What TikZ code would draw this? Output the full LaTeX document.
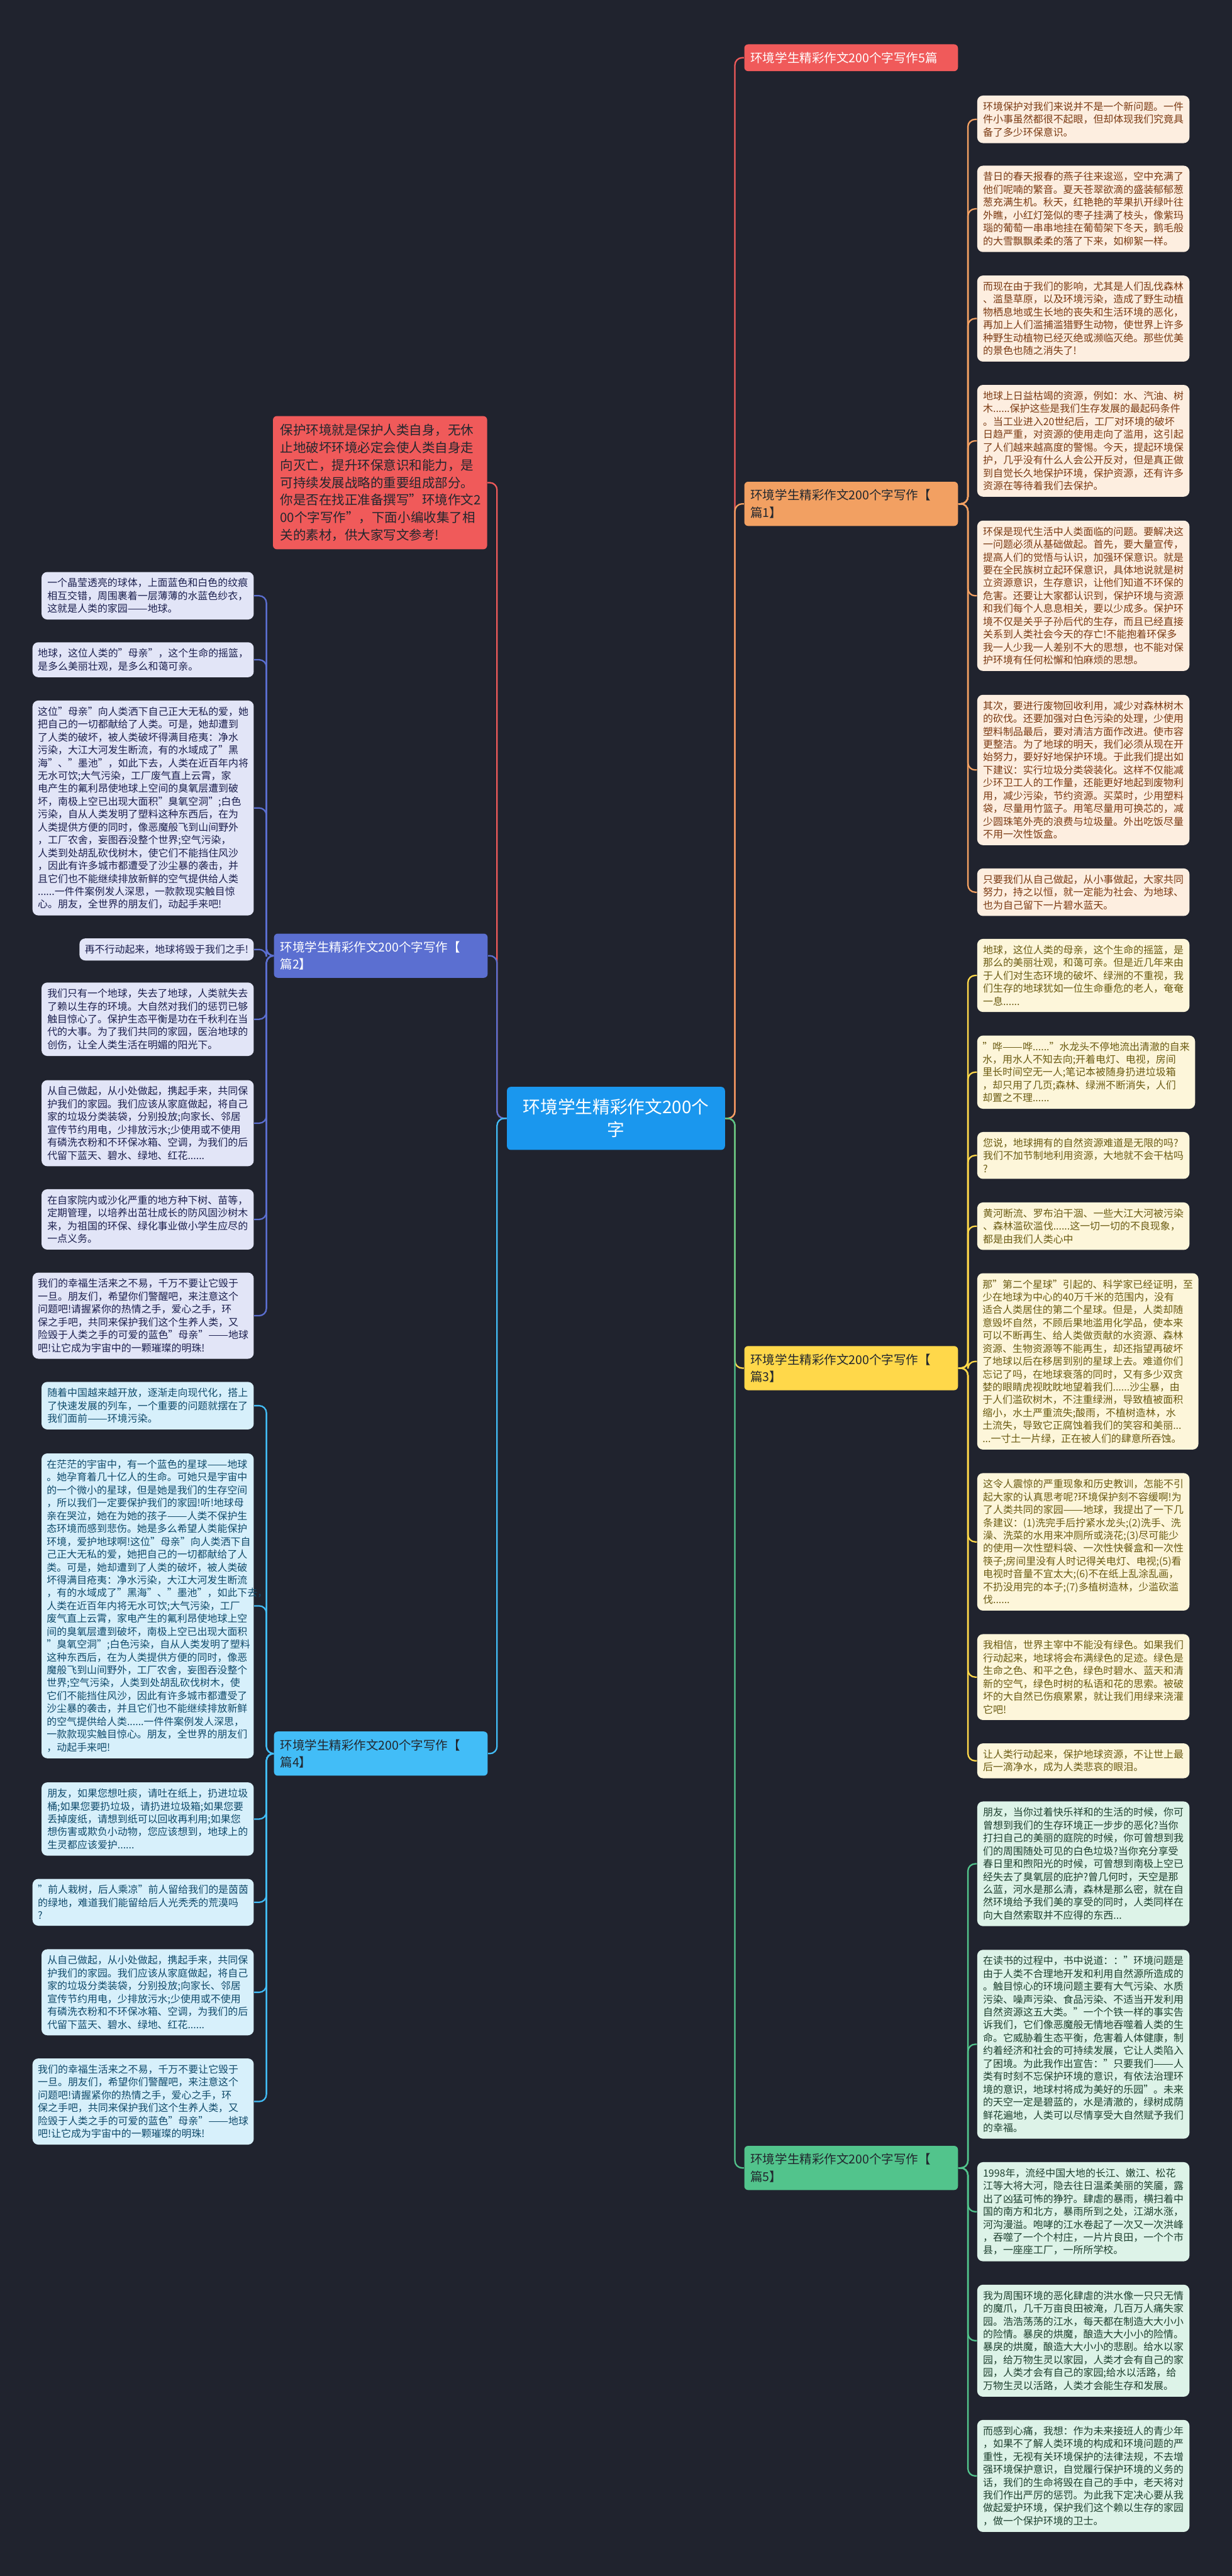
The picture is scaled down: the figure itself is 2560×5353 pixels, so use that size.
\documentclass[tikz,border=0pt]{standalone}
\usepackage{graphicx}
\usepackage{fontspec}
\setmainfont{Noto Sans CJK SC}
\usetikzlibrary{positioning}

\definecolor{bgcol}{HTML}{20232E}
\definecolor{ctrcol}{HTML}{1A97EE}
\definecolor{redcol}{HTML}{F05A5A}
\definecolor{orgcol}{HTML}{F2A062}
\definecolor{ylwcol}{HTML}{FFD84A}
\definecolor{grncol}{HTML}{52C48C}
\definecolor{prpcol}{HTML}{5B6FD1}
\definecolor{blucol}{HTML}{42BDF7}
\definecolor{orgfill}{HTML}{FDEEE0}
\definecolor{orgtext}{HTML}{7B3A12}
\definecolor{ylwfill}{HTML}{FDF6DA}
\definecolor{ylwtext}{HTML}{6B5B12}
\definecolor{grnfill}{HTML}{DDF3E8}
\definecolor{grntext}{HTML}{1D3F2E}
\definecolor{prpfill}{HTML}{E2E5F7}
\definecolor{prptext}{HTML}{1B1F4E}
\definecolor{blufill}{HTML}{D7F0FB}
\definecolor{blutext}{HTML}{0F4A6B}
\definecolor{darktext}{HTML}{22272E}

\newcommand{\leaffont}{\fontsize{5.93pt}{7.6pt}\selectfont}
\newcommand{\branchfont}{\fontsize{7.26pt}{10.24pt}\selectfont}
% two em dashes, kept two characters wide
\newcommand{\dashes}{\resizebox{2em}{\height}{——}}

\tikzset{
  leafbase/.style={rounded corners=1.2mm, inner xsep=1.1mm, inner ysep=1.3mm,
    minimum width=44.1mm, align=left, font=\leaffont},
  leafA/.style={leafbase, fill=orgfill, text=orgtext},
  leafB/.style={leafbase, fill=prpfill, text=prptext},
  leafC/.style={leafbase, fill=ylwfill, text=ylwtext},
  leafD/.style={leafbase, fill=blufill, text=blutext},
  leafE/.style={leafbase, fill=grnfill, text=grntext},
  branch/.style={rounded corners=0.8mm, inner xsep=1.3mm, inner ysep=1.6mm,
    text width=41.8mm, align=left, font=\branchfont},
  link/.style={line width=0.3mm, rounded corners=1.5mm}
}

\begin{document}
\begin{tikzpicture}[x=0.1mm,y=-0.1mm]
\useasboundingbox[fill=bgcol] (0,0) rectangle (2560,5353);

% Centre and intro
\node[fill=ctrcol, text=white, rounded corners=0.8mm, minimum width=45.3mm, minimum height=13.1mm,
  align=center, font=\fontsize{10.3pt}{13.4pt}\selectfont] (ctr) at (1280,2324)
  {环境学生精彩作文200个\\字};
\node[fill=redcol, text=darktext, rounded corners=0.8mm, inner xsep=1.5mm, inner ysep=1.7mm,
  text width=41.5mm, align=left, font=\fontsize{7.63pt}{10.3pt}\selectfont, anchor=east] (intro) at (1013,1003)
  {保护环境就是保护人类自身，无休\\止地破坏环境必定会使人类自身走\\向灭亡，提升环保意识和能力，是\\可持续发展战略的重要组成部分。\\你是否在找正准备撰写"环境作文2\\00个字写作"，下面小编收集了相\\关的素材，供大家写文参考!};

% Branches
\node[branch, fill=redcol, text=white, anchor=west] (b0) at (1546,120) {环境学生精彩作文200个字写作5篇};
\node[branch, fill=orgcol, text=darktext, anchor=west] (b1) at (1546,1047) {环境学生精彩作文200个字写作【\\篇1】};
\node[branch, fill=prpcol, text=white, anchor=east] (b2) at (1014,1986) {环境学生精彩作文200个字写作【\\篇2】};
\node[branch, fill=ylwcol, text=darktext, anchor=west] (b3) at (1546,2843) {环境学生精彩作文200个字写作【\\篇3】};
\node[branch, fill=blucol, text=darktext, anchor=east] (b4) at (1014,3644) {环境学生精彩作文200个字写作【\\篇4】};
\node[branch, fill=grncol, text=darktext, anchor=west] (b5) at (1546,4505) {环境学生精彩作文200个字写作【\\篇5】};

% Leaves of 篇1
\node[leafA, anchor=west] (l1a) at (2030,248) {环境保护对我们来说并不是一个新问题。一件\\件小事虽然都很不起眼，但却体现我们究竟具\\备了多少环保意识。};
\node[leafA, anchor=west] (l1b) at (2030,434) {昔日的春天报春的燕子往来逡巡，空中充满了\\他们呢喃的繁音。夏天苍翠欲滴的盛装郁郁葱\\葱充满生机。秋天，红艳艳的苹果扒开绿叶往\\外瞧，小红灯笼似的枣子挂满了枝头，像紫玛\\瑙的葡萄一串串地挂在葡萄架下冬天，鹅毛般\\的大雪飘飘柔柔的落了下来，如柳絮一样。};
\node[leafA, anchor=west] (l1c) at (2030,662) {而现在由于我们的影响，尤其是人们乱伐森林\\、滥垦草原，以及环境污染，造成了野生动植\\物栖息地或生长地的丧失和生活环境的恶化，\\再加上人们滥捕滥猎野生动物，使世界上许多\\种野生动植物已经灭绝或濒临灭绝。那些优美\\的景色也随之消失了!};
\node[leafA, anchor=west] (l1d) at (2030,916) {地球上日益枯竭的资源，例如：水、汽油、树\\木......保护这些是我们生存发展的最起码条件\\。当工业进入20世纪后，工厂对环境的破坏\\日趋严重，对资源的使用走向了滥用，这引起\\了人们越来越高度的警惕。今天，提起环境保\\护，几乎没有什么人会公开反对，但是真正做\\到自觉长久地保护环境，保护资源，还有许多\\资源在等待着我们去保护。};
\node[leafA, anchor=west] (l1e) at (2030,1238) {环保是现代生活中人类面临的问题。要解决这\\一问题必须从基础做起。首先，要大量宣传，\\提高人们的觉悟与认识，加强环保意识。就是\\要在全民族树立起环保意识，具体地说就是树\\立资源意识，生存意识，让他们知道不环保的\\危害。还要让大家都认识到，保护环境与资源\\和我们每个人息息相关，要以少成多。保护环\\境不仅是关乎子孙后代的生存，而且已经直接\\关系到人类社会今天的存亡!不能抱着环保多\\我一人少我一人差别不大的思想，也不能对保\\护环境有任何松懈和怕麻烦的思想。};
\node[leafA, anchor=west] (l1f) at (2030,1600) {其次，要进行废物回收利用，减少对森林树木\\的砍伐。还要加强对白色污染的处理，少使用\\塑料制品最后，要对清洁方面作改进。使市容\\更整洁。为了地球的明天，我们必须从现在开\\始努力，要好好地保护环境。于此我们提出如\\下建议：实行垃圾分类袋装化。这样不仅能减\\少环卫工人的工作量，还能更好地起到废物利\\用，减少污染，节约资源。买菜时，少用塑料\\袋，尽量用竹篮子。用笔尽量用可换芯的，减\\少圆珠笔外壳的浪费与垃圾量。外出吃饭尽量\\不用一次性饭盒。};
\node[leafA, anchor=west] (l1g) at (2030,1854) {只要我们从自己做起，从小事做起，大家共同\\努力，持之以恒，就一定能为社会、为地球、\\也为自己留下一片碧水蓝天。};

% Leaves of 篇3
\node[leafC, anchor=west] (l3a) at (2030,2027) {地球，这位人类的母亲，这个生命的摇篮，是\\那么的美丽壮观，和蔼可亲。但是近几年来由\\于人们对生态环境的破坏、绿洲的不重视，我\\们生存的地球犹如一位生命垂危的老人，奄奄\\一息......};
\node[leafC, anchor=west] (l3b) at (2030,2228) {"哗\dashes{}哗......"水龙头不停地流出清澈的自来\\水，用水人不知去向;开着电灯、电视，房间\\里长时间空无一人;笔记本被随身扔进垃圾箱\\，却只用了几页;森林、绿洲不断消失，人们\\却置之不理......};
\node[leafC, anchor=west] (l3c) at (2030,2401) {您说，地球拥有的自然资源难道是无限的吗?\\我们不加节制地利用资源，大地就不会干枯吗\\?};
\node[leafC, anchor=west] (l3d) at (2030,2548) {黄河断流、罗布泊干涸、一些大江大河被污染\\、森林滥砍滥伐......这一切一切的不良现象，\\都是由我们人类心中};
\node[leafC, anchor=west] (l3e) at (2030,2829) {那"第二个星球"引起的、科学家已经证明，至\\少在地球为中心的40万千米的范围内，没有\\适合人类居住的第二个星球。但是，人类却随\\意毁坏自然，不顾后果地滥用化学品，使本来\\可以不断再生、给人类做贡献的水资源、森林\\资源、生物资源等不能再生，却还指望再破坏\\了地球以后在移居到别的星球上去。难道你们\\忘记了吗，在地球衰落的同时，又有多少双贪\\婪的眼睛虎视眈眈地望着我们......沙尘暴，由\\于人们滥砍树木，不注重绿洲，导致植被面积\\缩小，水土严重流失;酸雨，不植树造林，水\\土流失，导致它正腐蚀着我们的笑容和美丽...\\...一寸土一片绿，正在被人们的肆意所吞蚀。};
\node[leafC, anchor=west] (l3f) at (2030,3204) {这令人震惊的严重现象和历史教训，怎能不引\\起大家的认真思考呢?环境保护刻不容缓啊!为\\了人类共同的家园\dashes{}地球，我提出了一下几\\条建议：(1)洗完手后拧紧水龙头;(2)洗手、洗\\澡、洗菜的水用来冲厕所或浇花;(3)尽可能少\\的使用一次性塑料袋、一次性快餐盒和一次性\\筷子;房间里没有人时记得关电灯、电视;(5)看\\电视时音量不宜太大;(6)不在纸上乱涂乱画，\\不扔没用完的本子;(7)多植树造林，少滥砍滥\\伐......};
\node[leafC, anchor=west] (l3g) at (2030,3485) {我相信，世界主宰中不能没有绿色。如果我们\\行动起来，地球将会布满绿色的足迹。绿色是\\生命之色、和平之色，绿色时碧水、蓝天和清\\新的空气，绿色时树的私语和花的思索。被破\\坏的大自然已伤痕累累，就让我们用绿来浇灌\\它吧!};
\node[leafC, anchor=west] (l3h) at (2030,3659) {让人类行动起来，保护地球资源，不让世上最\\后一滴净水，成为人类悲哀的眼泪。};

% Leaves of 篇5
\node[leafE, anchor=west] (l5a) at (2030,3873) {朋友，当你过着快乐祥和的生活的时候，你可\\曾想到我们的生存环境正一步步的恶化?当你\\打扫自己的美丽的庭院的时候，你可曾想到我\\们的周围随处可见的白色垃圾?当你充分享受\\春日里和煦阳光的时候，可曾想到南极上空已\\经失去了臭氧层的庇护?曾几何时，天空是那\\么蓝，河水是那么清，森林是那么密，就在自\\然环境给予我们美的享受的同时，人类同样在\\向大自然索取并不应得的东西...};
\node[leafE, anchor=west] (l5b) at (2030,4248) {在读书的过程中，书中说道：："环境问题是\\由于人类不合理地开发和利用自然源所造成的\\。触目惊心的环境问题主要有大气污染、水质\\污染、噪声污染、食品污染、不适当开发利用\\自然资源这五大类。"一个个铁一样的事实告\\诉我们，它们像恶魔般无情地吞噬着人类的生\\命。它威胁着生态平衡，危害着人体健康，制\\约着经济和社会的可持续发展，它让人类陷入\\了困境。为此我作出宣告："只要我们\dashes{}人\\类有时刻不忘保护环境的意识，有依法治理环\\境的意识，地球村将成为美好的乐园"。未来\\的天空一定是碧蓝的，水是清澈的，绿树成荫\\鲜花遍地，人类可以尽情享受大自然赋予我们\\的幸福。};
\node[leafE, anchor=west] (l5c) at (2030,4596) {1998年，流经中国大地的长江、嫩江、松花\\江等大将大河，隐去往日温柔美丽的笑靥，露\\出了凶猛可怖的狰狞。肆虐的暴雨，横扫着中\\国的南方和北方，暴雨所到之处，江湖水涨，\\河沟漫溢。咆哮的江水卷起了一次又一次洪峰\\，吞噬了一个个村庄，一片片良田，一个个市\\县，一座座工厂，一所所学校。};
\node[leafE, anchor=west] (l5d) at (2030,4864) {我为周围环境的恶化肆虐的洪水像一只只无情\\的魔爪，几千万亩良田被淹，几百万人痛失家\\园。浩浩荡荡的江水，每天都在制造大大小小\\的险情。暴戾的烘魔，酿造大大小小的险情。\\暴戾的烘魔，酿造大大小小的悲剧。给水以家\\园，给万物生灵以家园，人类才会有自己的家\\园，人类才会有自己的家园;给水以活路，给\\万物生灵以活路，人类才会能生存和发展。};
\node[leafE, anchor=west] (l5e) at (2030,5145) {而感到心痛，我想：作为未来接班人的青少年\\，如果不了解人类环境的构成和环境问题的严\\重性，无视有关环境保护的法律法规，不去增\\强环境保护意识，自觉履行保护环境的义务的\\话，我们的生命将毁在自己的手中，老天将对\\我们作出严厉的惩罚。为此我下定决心要从我\\做起爱护环境，保护我们这个赖以生存的家园\\，做一个保护环境的卫士。};

% Leaves of 篇2
\node[leafB, anchor=east] (l2a) at (528,1238) {一个晶莹透亮的球体，上面蓝色和白色的纹痕\\相互交错，周围裹着一层薄薄的水蓝色纱衣，\\这就是人类的家园\dashes{}地球。};
\node[leafB, anchor=east] (l2b) at (528,1371) {地球，这位人类的"母亲"，这个生命的摇篮，\\是多么美丽壮观，是多么和蔼可亲。};
\node[leafB, anchor=east] (l2c) at (528,1679) {这位"母亲"向人类洒下自己正大无私的爱，她\\把自己的一切都献给了人类。可是，她却遭到\\了人类的破坏，被人类破坏得满目疮夷：净水\\污染，大江大河发生断流，有的水域成了"黑\\海"、"墨池"，如此下去，人类在近百年内将\\无水可饮;大气污染，工厂废气直上云霄，家\\电产生的氟利昂使地球上空间的臭氧层遭到破\\坏，南极上空已出现大面积"臭氧空洞";白色\\污染，自从人类发明了塑料这种东西后，在为\\人类提供方便的同时，像恶魔般飞到山间野外\\，工厂农舍，妄图吞没整个世界;空气污染，\\人类到处胡乱砍伐树木，使它们不能挡住风沙\\，因此有许多城市都遭受了沙尘暴的袭击，并\\且它们也不能继续排放新鲜的空气提供给人类\\......一件件案例发人深思，一款款现实触目惊\\心。朋友，全世界的朋友们，动起手来吧!};
\node[leafB, minimum width=0pt, anchor=east] (l2d) at (528,1973) {再不行动起来，地球将毁于我们之手!};
\node[leafB, anchor=east] (l2e) at (528,2118) {我们只有一个地球，失去了地球，人类就失去\\了赖以生存的环境。大自然对我们的惩罚已够\\触目惊心了。保护生态平衡是功在千秋利在当\\代的大事。为了我们共同的家园，医治地球的\\创伤，让全人类生活在明媚的阳光下。};
\node[leafB, anchor=east] (l2f) at (528,2334) {从自己做起，从小处做起，携起手来，共同保\\护我们的家园。我们应该从家庭做起，将自己\\家的垃圾分类装袋，分别投放;向家长、邻居\\宣传节约用电，少排放污水;少使用或不使用\\有磷洗衣粉和不环保冰箱、空调，为我们的后\\代留下蓝天、碧水、绿地、红花......};
\node[leafB, anchor=east] (l2g) at (528,2534) {在自家院内或沙化严重的地方种下树、苗等，\\定期管理，以培养出茁壮成长的防风固沙树木\\来，为祖国的环保、绿化事业做小学生应尽的\\一点义务。};
\node[leafB, anchor=east] (l2h) at (528,2734) {我们的幸福生活来之不易，千万不要让它毁于\\一旦。朋友们，希望你们警醒吧，来注意这个\\问题吧!请握紧你的热情之手，爱心之手，环\\保之手吧，共同来保护我们这个生养人类，又\\险毁于人类之手的可爱的蓝色"母亲"\dashes{}地球\\吧!让它成为宇宙中的一颗璀璨的明珠!};

% Leaves of 篇4
\node[leafD, anchor=east] (l4a) at (528,2921) {随着中国越来越开放，逐渐走向现代化，搭上\\了快速发展的列车，一个重要的问题就摆在了\\我们面前\dashes{}环境污染。};
\node[leafD, text width=41.9mm, anchor=east] (l4b) at (528,3337) {在茫茫的宇宙中，有一个蓝色的星球\dashes{}地球\\。她孕育着几十亿人的生命。可她只是宇宙中\\的一个微小的星球，但是她是我们的生存空间\\，所以我们一定要保护我们的家园!听!地球母\\亲在哭泣，她在为她的孩子\dashes{}人类不保护生\\态环境而感到悲伤。她是多么希望人类能保护\\环境，爱护地球啊!这位"母亲"向人类洒下自\\己正大无私的爱，她把自己的一切都献给了人\\类。可是，她却遭到了人类的破坏，被人类破\\坏得满目疮夷：净水污染，大江大河发生断流\\，有的水域成了"黑海"、"墨池"，如此下去，\\人类在近百年内将无水可饮;大气污染，工厂\\废气直上云霄，家电产生的氟利昂使地球上空\\间的臭氧层遭到破坏，南极上空已出现大面积\\"臭氧空洞";白色污染，自从人类发明了塑料\\这种东西后，在为人类提供方便的同时，像恶\\魔般飞到山间野外，工厂农舍，妄图吞没整个\\世界;空气污染，人类到处胡乱砍伐树木，使\\它们不能挡住风沙，因此有许多城市都遭受了\\沙尘暴的袭击，并且它们也不能继续排放新鲜\\的空气提供给人类......一件件案例发人深思，\\一款款现实触目惊心。朋友，全世界的朋友们\\，动起手来吧!};
\node[leafD, anchor=east] (l4c) at (528,3780) {朋友，如果您想吐痰，请吐在纸上，扔进垃圾\\桶;如果您要扔垃圾，请扔进垃圾箱;如果您要\\丢掉废纸，请想到纸可以回收再利用;如果您\\想伤害或欺负小动物，您应该想到，地球上的\\生灵都应该爱护......};
\node[leafD, anchor=east] (l4d) at (528,3953) {"前人栽树，后人乘凉"前人留给我们的是茵茵\\的绿地，难道我们能留给后人光秃秃的荒漠吗\\?};
\node[leafD, anchor=east] (l4e) at (528,4140) {从自己做起，从小处做起，携起手来，共同保\\护我们的家园。我们应该从家庭做起，将自己\\家的垃圾分类装袋，分别投放;向家长、邻居\\宣传节约用电，少排放污水;少使用或不使用\\有磷洗衣粉和不环保冰箱、空调，为我们的后\\代留下蓝天、碧水、绿地、红花......};
\node[leafD, anchor=east] (l4f) at (528,4367) {我们的幸福生活来之不易，千万不要让它毁于\\一旦。朋友们，希望你们警醒吧，来注意这个\\问题吧!请握紧你的热情之手，爱心之手，环\\保之手吧，共同来保护我们这个生养人类，又\\险毁于人类之手的可爱的蓝色"母亲"\dashes{}地球\\吧!让它成为宇宙中的一颗璀璨的明珠!};

% Links from the centre
\draw[link, redcol] (ctr.west) -- ++(-20,0) |- (intro.east);
\draw[link, prpcol] (ctr.west) -- ++(-20,0) |- (b2.east);
\draw[link, blucol] (ctr.west) -- ++(-20,0) |- (b4.east);
\draw[link, redcol] (ctr.east) -- ++(20,0) |- (b0.west);
\draw[link, orgcol] (ctr.east) -- ++(20,0) |- (b1.west);
\draw[link, ylwcol] (ctr.east) -- ++(20,0) |- (b3.west);
\draw[link, grncol] (ctr.east) -- ++(20,0) |- (b5.west);

% Links to the leaves
\foreach \n in {l1a,l1b,l1c,l1d,l1e,l1f,l1g}
  \draw[link, orgcol] (b1.east) -- ++(20,0) |- (\n.west);
\foreach \n in {l3a,l3b,l3c,l3d,l3e,l3f,l3g,l3h}
  \draw[link, ylwcol] (b3.east) -- ++(20,0) |- (\n.west);
\foreach \n in {l5a,l5b,l5c,l5d,l5e}
  \draw[link, grncol] (b5.east) -- ++(20,0) |- (\n.west);
\foreach \n in {l2a,l2b,l2c,l2d,l2e,l2f,l2g,l2h}
  \draw[link, prpcol] (b2.west) -- ++(-15,0) |- (\n.east);
\foreach \n in {l4a,l4b,l4c,l4d,l4e,l4f}
  \draw[link, blucol] (b4.west) -- ++(-15,0) |- (\n.east);
\end{tikzpicture}
\end{document}
